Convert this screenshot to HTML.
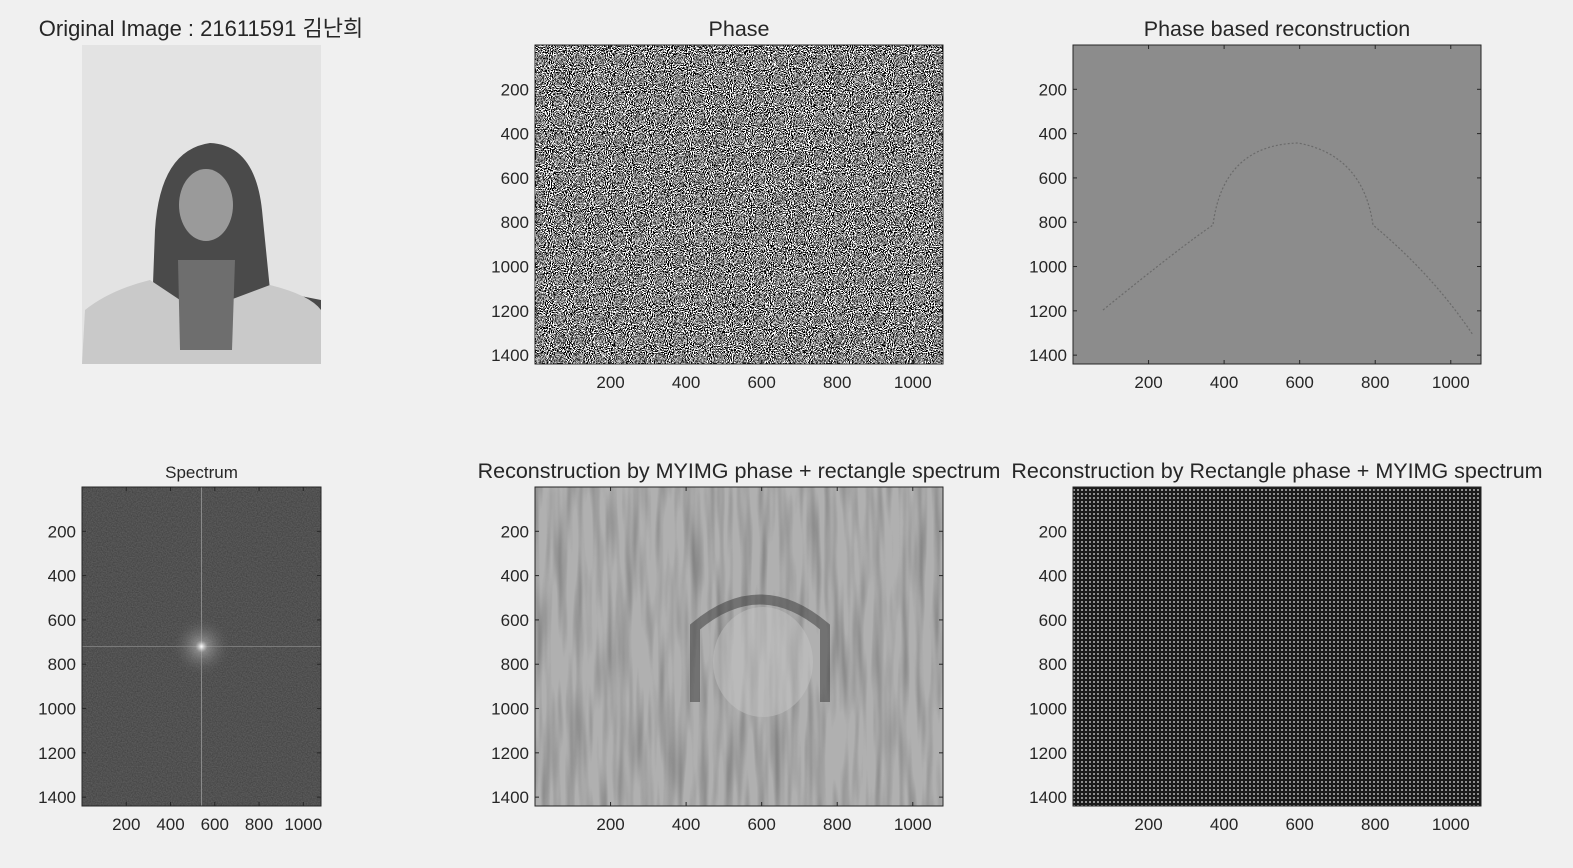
<!DOCTYPE html>
<html><head><meta charset="utf-8">
<style>
body{margin:0;background:#f0f0f0;width:1573px;height:868px;overflow:hidden;font-family:"Liberation Sans","Noto Sans CJK KR",sans-serif;}
svg{position:absolute;left:0;top:0}
text{font-family:"Liberation Sans","Noto Sans CJK KR",sans-serif;fill:#262626}
</style></head><body>
<svg id="fig" width="1573" height="868">
<defs>
<filter id="bwnoise" x="0" y="0" width="100%" height="100%">
<feTurbulence type="fractalNoise" baseFrequency="0.95" numOctaves="1" seed="3"/>
<feColorMatrix type="matrix" values="0 0 0 0 0  0 0 0 0 0  0 0 0 0 0  1 0 0 0 0"/>
<feComponentTransfer><feFuncA type="discrete" tableValues="1 0"/></feComponentTransfer>
</filter>
<filter id="finenoise" x="0" y="0" width="100%" height="100%">
<feTurbulence type="fractalNoise" baseFrequency="0.8" numOctaves="1" seed="7"/>
<feColorMatrix type="matrix" values="0 0 0 0 0  0 0 0 0 0  0 0 0 0 0  0.5 0 0 0 -0.15"/>
</filter>
<filter id="blurnoise" x="0" y="0" width="100%" height="100%">
<feTurbulence type="fractalNoise" baseFrequency="0.12 0.01" numOctaves="2" seed="5"/>
<feColorMatrix type="matrix" values="0 0 0 0 0  0 0 0 0 0  0 0 0 0 0  0.5 0 0 0 -0.2"/>
</filter>
<pattern id="dots" width="4" height="4" patternUnits="userSpaceOnUse">
<rect width="4" height="4" fill="#1a1a1a"/><rect x="1" y="1" width="2" height="2" fill="#8e8e8e"/>
</pattern>
<radialGradient id="spot"><stop offset="0" stop-color="#fff"/><stop offset="0.2" stop-color="#aaa" stop-opacity="0.6"/><stop offset="1" stop-color="#555" stop-opacity="0"/></radialGradient>
</defs>
</svg>
<script>
const xTicks=[200,400,600,800,1000];
const yTicks=[200,400,600,800,1000,1200,1400];
const imgW=1080, imgH=1440;
const panels=[
 {name:'phase',x:535,y:45,w:408,h:319,title:'Phase',fs:21.5,kind:'phase'},
 {name:'phase-reconstruction',x:1073,y:45,w:408,h:319,title:'Phase based reconstruction',fs:21.5,kind:'recon'},
 {name:'spectrum',x:82,y:487,w:239,h:319,title:'Spectrum',fs:17,kind:'spec'},
 {name:'myimg-phase-rect-spectrum',x:535,y:487,w:408,h:319,title:'Reconstruction by MYIMG phase + rectangle spectrum',fs:21.5,kind:'blur'},
 {name:'rect-phase-myimg-spectrum',x:1073,y:487,w:408,h:319,title:'Reconstruction by Rectangle phase + MYIMG spectrum',fs:21.5,kind:'dots'}
];
const svg=document.getElementById('fig');
const NS='http://www.w3.org/2000/svg';
function mk(t,a,p){const e=document.createElementNS(NS,t);for(const k in a)e.setAttribute(k,a[k]);(p||svg).appendChild(e);return e;}
const og=mk('g',{});


mk('rect',{x:82,y:45,width:239,height:319,fill:'#e3e3e3'},og);
mk('path',{d:'M150,364 L155,230 Q160,150 210,143 Q255,145 262,210 L270,290 L321,300 L321,364 Z',fill:'#4a4a4a'},og);
mk('path',{d:'M82,364 L85,310 Q110,290 150,280 L180,300 L230,300 L270,285 Q310,295 321,310 L321,364 Z',fill:'#c9c9c9'},og);
mk('ellipse',{cx:206,cy:205,rx:27,ry:36,fill:'#9a9a9a'},og);
mk('path',{d:'M178,260 L235,260 L232,350 L180,350 Z',fill:'#6e6e6e'},og);
const t0=mk('text',{x:201,y:36,'font-size':22,'text-anchor':'middle'});
t0.textContent='Original Image : 21611591 김난희';


panels.forEach(p=>{
 const g=mk('g',{});
 
 
 const sx=v=>p.x+v/imgW*p.w, sy=v=>p.y+v/imgH*p.h;
 if(p.kind==='phase'){mk('rect',{x:p.x,y:p.y,width:p.w,height:p.h,fill:'#fff'},g);mk('rect',{x:p.x,y:p.y,width:p.w,height:p.h,fill:'#000',filter:'url(#bwnoise)'},g);}
 if(p.kind==='recon'){mk('rect',{x:p.x,y:p.y,width:p.w,height:p.h,fill:'#8c8c8c'},g);
  mk('path',{d:`M${p.x+30},${p.y+265} Q${p.x+110},${p.y+200} ${p.x+140},${p.y+180} Q${p.x+150},${p.y+100} ${p.x+225},${p.y+98} Q${p.x+290},${p.y+110} ${p.x+300},${p.y+180} Q${p.x+360},${p.y+230} ${p.x+400},${p.y+290}`,fill:'none',stroke:'#6a6a6a','stroke-width':1.2,'stroke-dasharray':'2 2'},g);}
 if(p.kind==='spec'){mk('rect',{x:p.x,y:p.y,width:p.w,height:p.h,fill:'#5a5a5a'},g);mk('rect',{x:p.x,y:p.y,width:p.w,height:p.h,fill:'#222',filter:'url(#finenoise)'},g);
  mk('line',{x1:sx(540),x2:sx(540),y1:p.y,y2:p.y+p.h,stroke:'#8a8a8a'},g);mk('line',{y1:sy(720),y2:sy(720),x1:p.x,x2:p.x+p.w,stroke:'#7a7a7a'},g);
  mk('circle',{cx:sx(540),cy:sy(720),r:30,fill:'url(#spot)'},g);}
 if(p.kind==='blur'){mk('rect',{x:p.x,y:p.y,width:p.w,height:p.h,fill:'#b0b0b0'},g);mk('rect',{x:p.x,y:p.y,width:p.w,height:p.h,fill:'#333',filter:'url(#blurnoise)'},g);
  mk('path',{d:`M${p.x+160},${p.y+215} L${p.x+160},${p.y+140} Q${p.x+225},${p.y+85} ${p.x+290},${p.y+140} L${p.x+290},${p.y+215}`,fill:'none',stroke:'#333','stroke-width':10,opacity:0.5},g);
  mk('ellipse',{cx:p.x+228,cy:p.y+175,rx:50,ry:55,fill:'#c4c4c4',opacity:0.5},g);}
 if(p.kind==='dots'){mk('rect',{x:p.x,y:p.y,width:p.w,height:p.h,fill:'url(#dots)'},g);}
 mk('rect',{x:p.x,y:p.y,width:p.w,height:p.h,fill:'none',stroke:'#262626','stroke-width':1},g);
 const tt=mk('text',{x:p.x+p.w/2,y:p.y-9,'font-size':p.fs,'text-anchor':'middle'},g);
 tt.textContent=p.title;
 
 
 xTicks.forEach(v=>{const X=sx(v);mk('line',{x1:X,x2:X,y1:p.y+p.h,y2:p.y+p.h-4,stroke:'#262626'},g);mk('line',{x1:X,x2:X,y1:p.y,y2:p.y+4,stroke:'#262626'},g);
  const t=mk('text',{x:X,y:p.y+p.h+24,'font-size':17,'text-anchor':'middle'},g);t.textContent=v;
  
  });
 yTicks.forEach(v=>{const Y=sy(v);mk('line',{x1:p.x,x2:p.x+4,y1:Y,y2:Y,stroke:'#262626'},g);mk('line',{x1:p.x+p.w,x2:p.x+p.w-4,y1:Y,y2:Y,stroke:'#262626'},g);
  const t=mk('text',{x:p.x-6,y:Y+6,'font-size':17,'text-anchor':'end'},g);t.textContent=v;
  
  });
});
</script>
</body></html>
